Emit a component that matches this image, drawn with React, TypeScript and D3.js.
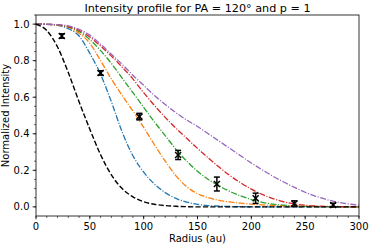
import React from 'react';
import { scaleLinear, line, curveMonotoneX } from 'd3';

// model profiles sampled every 10 au
const radii = [0, 10, 20, 30, 40, 50, 60, 70, 80, 90, 100, 110, 120, 130, 140, 150,
    160, 170, 180, 190, 200, 210, 220, 230, 240, 250, 260, 270, 280, 290, 300];

const blackModel = [1.0, 0.965, 0.875, 0.735, 0.575, 0.425, 0.285, 0.175, 0.1, 0.055, 0.028, 0.014, 0.007, 0.003, 0.001, 0,
    0, 0, 0, 0, 0, 0, 0, 0, 0, 0, 0, 0, 0, 0, 0];
const blueModel = [1.0, 0.999, 0.993, 0.975, 0.935, 0.84, 0.725, 0.575, 0.41, 0.28, 0.19, 0.125, 0.078, 0.046, 0.026, 0.014,
    0.007, 0.004, 0.002, 0.001, 0, 0, 0, 0, 0, 0, 0, 0, 0, 0, 0];
const orangeModel = [1.0, 0.999, 0.995, 0.982, 0.95, 0.895, 0.8, 0.7, 0.61, 0.525, 0.435, 0.34, 0.25, 0.17, 0.11, 0.072,
    0.05, 0.036, 0.027, 0.02, 0.015, 0.011, 0.008, 0.006, 0.004, 0.003, 0.002, 0.001, 0.001, 0, 0];
const greenModel = [1.0, 0.999, 0.996, 0.985, 0.96, 0.915, 0.855, 0.785, 0.705, 0.625, 0.545, 0.465, 0.39, 0.315, 0.25, 0.195,
    0.15, 0.115, 0.085, 0.06, 0.04, 0.025, 0.015, 0.009, 0.005, 0.003, 0.002, 0.001, 0, 0, 0];
const redModel = [1.0, 0.999, 0.996, 0.987, 0.965, 0.93, 0.88, 0.825, 0.765, 0.7, 0.625, 0.555, 0.49, 0.43, 0.375, 0.32,
    0.268, 0.218, 0.172, 0.132, 0.097, 0.068, 0.045, 0.028, 0.016, 0.009, 0.005, 0.003, 0.002, 0.001, 0];
const purpleModel = [1.0, 0.999, 0.997, 0.99, 0.972, 0.94, 0.89, 0.835, 0.78, 0.72, 0.665, 0.61, 0.56, 0.515, 0.475, 0.44,
    0.4, 0.36, 0.32, 0.28, 0.24, 0.203, 0.168, 0.136, 0.107, 0.08, 0.058, 0.04, 0.026, 0.016, 0.009];

// observed points
const obsRadius = [24, 60, 96, 132, 168, 204, 240, 276];
const obsIntensity = [0.935, 0.733, 0.494, 0.284, 0.125, 0.047, 0.018, 0.01];
const obsError = [0.012, 0.012, 0.018, 0.025, 0.038, 0.028, 0.015, 0.01];

const xTickLabels = ['0', '50', '100', '150', '200', '250', '300'];
const yTickLabels = ['0.0', '0.2', '0.4', '0.6', '0.8', '1.0'];

const models = [
    { values: blueModel, color: '#1f77b4' },
    { values: orangeModel, color: '#ff7f0e' },
    { values: greenModel, color: '#2ca02c' },
    { values: redModel, color: '#d62728' },
    { values: purpleModel, color: '#9467bd' },
];

export default function App() {
    const W = 369, H = 245;
    const margin = { top: 15, right: 10, bottom: 29, left: 36 };
    const x = scaleLinear().domain([0, 300]).range([margin.left, W - margin.right]);
    const y = scaleLinear().domain([-0.05, 1.05]).range([H - margin.bottom, margin.top]);
    const x0 = margin.left, x1 = W - margin.right, y0 = margin.top, y1 = H - margin.bottom;

    const path = (vals: number[]) =>
        line<number>().x((_, i) => x(radii[i])).y(d => y(d)).curve(curveMonotoneX)(vals) || '';

    const xMinor = x.ticks(30);
    const yMinor = y.ticks(22).filter(v => v >= -0.0001 && v <= 1.0501);
    const font = 'DejaVu Sans, sans-serif';

    return (
        <svg width={W} height={H} style={{ position: 'absolute', left: 0, top: 0, background: '#fff' }}
            fontFamily={font}>
            <defs>
                <clipPath id="plot">
                    <rect x={x0} y={y0} width={x1 - x0} height={y1 - y0} />
                </clipPath>
            </defs>
            <rect x={0} y={0} width={W} height={H} fill="#fff" />

            <g clipPath="url(#plot)">
                {models.map((m, i) => (
                    <path key={i} d={path(m.values)} fill="none" stroke={m.color}
                        strokeWidth={1.3} strokeDasharray="6,1.6,1.1,1.6" />
                ))}
                <path d={path(blackModel)} fill="none" stroke="#000" strokeWidth={1.4} strokeDasharray="5.2,2.2" />

                {obsRadius.map((r, i) => {
                    const cx = x(r), cy = y(obsIntensity[i]);
                    const top = y(obsIntensity[i] + obsError[i]);
                    const bot = y(obsIntensity[i] - obsError[i]);
                    const s = 3;
                    return (
                        <g key={i} stroke="#000" strokeWidth={1.5}>
                            <line x1={cx} x2={cx} y1={top} y2={bot} />
                            <line x1={cx - s} x2={cx + s} y1={top} y2={top} />
                            <line x1={cx - s} x2={cx + s} y1={bot} y2={bot} />
                            <line x1={cx - s} x2={cx + s} y1={cy - s} y2={cy + s} />
                            <line x1={cx - s} x2={cx + s} y1={cy + s} y2={cy - s} />
                        </g>
                    );
                })}
            </g>

            {/* frame */}
            <rect x={x0} y={y0} width={x1 - x0} height={y1 - y0} fill="none" stroke="#000" strokeWidth={0.8} />

            {/* x ticks */}
            {xMinor.map((v, i) => (
                <line key={'xm' + i} x1={x(v)} x2={x(v)} y1={y1} y2={y1 + 2} stroke="#000" strokeWidth={0.6} />
            ))}
            {xTickLabels.map((t, i) => (
                <g key={'xt' + i}>
                    <line x1={x(+t)} x2={x(+t)} y1={y1} y2={y1 + 3.4} stroke="#000" strokeWidth={0.8} />
                    <text x={x(+t)} y={230} fontSize={10} textAnchor="middle" fill="#000">{t}</text>
                </g>
            ))}

            {/* y ticks */}
            {yMinor.map((v, i) => (
                <line key={'ym' + i} x1={x0 - 2} x2={x0} y1={y(v)} y2={y(v)} stroke="#000" strokeWidth={0.6} />
            ))}
            {yTickLabels.map((t, i) => (
                <g key={'yt' + i}>
                    <line x1={x0 - 3.4} x2={x0} y1={y(+t)} y2={y(+t)} stroke="#000" strokeWidth={0.8} />
                    <text x={29.5} y={y(+t)} dy="0.36em" fontSize={10} textAnchor="end" fill="#000">{t}</text>
                </g>
            ))}

            <text x={(x0 + x1) / 2} y={11.5} fontSize={11.2} textAnchor="middle" fill="#000">
                Intensity profile for PA = 120° and p = 1
            </text>
            <text x={(x0 + x1) / 2} y={241.5} fontSize={10} textAnchor="middle" fill="#000">Radius (au)</text>
            <text transform={`translate(9.3,${(y0 + y1) / 2}) rotate(-90)`} fontSize={10}
                textAnchor="middle" fill="#000">Normalized Intensity</text>
        </svg>
    );
}
